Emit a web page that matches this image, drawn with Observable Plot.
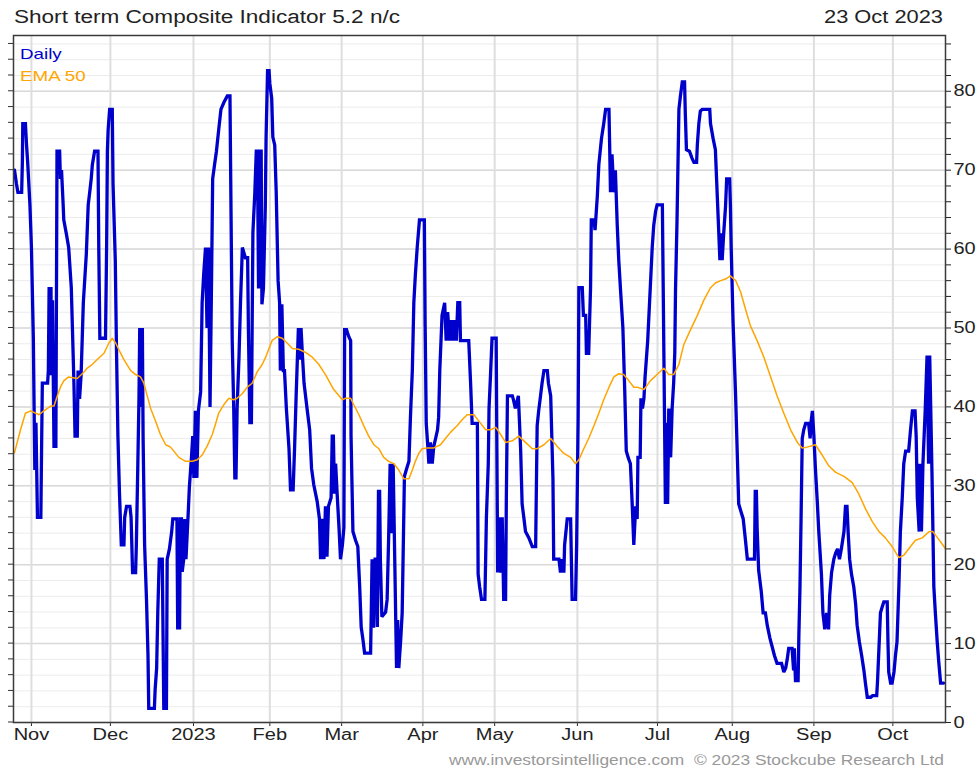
<!DOCTYPE html>
<html>
<head>
<meta charset="utf-8">
<script src="https://cdn.jsdelivr.net/npm/d3@7"></script>
<script src="https://cdn.jsdelivr.net/npm/@observablehq/plot@0.6"></script>
<style>
  html, body { margin: 0; padding: 0; background: #fff; }
  svg { display: block; }
</style>
</head>
<body>
<div id="chart"></div>
<script>
// ---- Data ----
// Position on the trading-day axis (0 = first session shown) and Daily indicator value
const dailyDay = [
  0,0.5,0.9,1.9,2.1,2.2,2.9,3.2,3.5,4.1,
  4.5,5.0,5.4,5.7,6.1,7.0,7.2,7.4,8.8,9.0,
  9.2,9.7,9.8,10.1,10.5,11.0,11.3,12.0,12.2,12.5,
  12.9,13.1,13.8,14.4,15.1,15.4,15.8,16.1,16.7,16.9,
  17.3,17.7,18.0,18.3,19.1,19.6,20.0,20.4,20.7,21.3,
  22.2,22.4,22.7,24.2,24.5,24.7,24.9,25.3,26.0,26.2,
  26.8,27.1,27.5,27.9,28.4,29.1,29.3,29.8,30.7,31.0,
  31.4,32.2,32.4,32.8,33.1,33.3,33.6,34.0,34.2,34.6,
  35.1,35.5,35.7,37.2,37.4,37.8,38.1,38.5,39.3,39.5,
  39.7,40.4,40.6,41.2,41.8,42.1,43.2,43.4,43.9,44.1,
  44.4,44.6,45.0,45.3,45.6,46.2,46.5,47.1,47.4,47.7,
  48.1,48.5,48.9,49.5,49.9,50.3,50.8,51.2,51.6,52.0,
  52.4,52.7,53.2,53.7,54.3,54.9,55.7,56.6,57.3,57.6,
  57.9,58.3,58.6,58.9,59.2,59.7,60.1,60.6,61.4,62.0,
  62.2,62.6,63.0,63.2,63.4,63.9,64.3,64.6,64.9,65.3,
  65.6,65.8,66.2,66.7,66.9,67.3,67.7,67.9,68.4,68.7,
  69.2,69.6,70.1,70.5,70.7,71.1,71.5,71.8,72.3,73.0,
  73.4,74.1,74.5,74.9,75.5,75.8,76.2,76.6,77.0,77.8,
  78.5,79.0,79.6,80.5,81.1,81.4,81.9,82.3,82.7,83.1,
  83.5,84.2,84.5,84.8,85.1,85.4,85.8,86.3,86.7,87.2,
  87.6,87.8,88.3,88.9,89.4,89.5,90.0,90.7,91.3,91.8,
  92.2,92.7,93.1,94.7,94.9,95.1,95.5,95.9,96.3,96.5,
  96.8,97.1,97.3,97.7,98.7,99.1,99.5,99.9,100.3,100.7,
  101.0,101.3,101.6,101.9,102.2,102.7,103.1,103.4,103.7,104.3,
  104.9,105.3,105.8,106.2,106.6,107.1,107.7,109.0,109.2,109.5,
  110.0,110.2,110.6,111.1,111.5,112.0,112.5,112.8,113.1,113.7,
  114.4,114.8,115.2,115.7,116.1,116.6,117.0,117.5,117.9,118.4,
  118.6,120.8,121.3,121.7,123.1,123.3,123.7,124.2,125.1,125.3,
  125.5,126.0,126.2,126.6,127.0,128.1,128.3,128.5,128.8,129.3,
  129.7,130.1,130.6,130.8,131.1,132.4,132.7,133.2,134.0,134.6,
  135.0,135.5,135.9,136.8,137.7,138.6,138.8,139.0,139.4,139.9,
  140.3,140.8,141.7,142.0,142.6,143.2,143.4,144.8,145.2,145.6,
  146.1,146.3,147.0,147.9,148.1,148.3,149.2,149.5,149.9,150.1,
  151.0,151.3,151.9,152.1,152.7,153.2,153.4,154.1,154.4,155.0,
  155.4,156.1,156.7,157.2,158.1,158.3,158.5,158.9,159.4,159.8,
  160.3,160.7,161.2,161.8,162.3,162.7,163.2,163.8,164.3,164.7,
  165.2,165.6,165.8,166.4,166.6,167.0,167.4,167.7,168.4,169.0,
  169.6,170.0,170.5,170.9,172.3,172.7,173.1,173.4,173.7,174.0,
  174.5,174.9,175.3,175.6,175.8,176.2,176.7,177.1,177.6,178.2,
  178.4,178.7,179.5,180.2,180.7,181.4,181.6,182.0,182.4,182.9,
  184.9,185.1,185.8,186.4,187.0,187.6,187.9,188.2,188.6,189.1,
  189.4,190.2,190.4,190.6,191.1,191.8,192.2,192.6,193.1,193.8,
  194.4,194.9,196.8,197.0,197.3,197.5,197.9,198.6,199.1,199.7,
  200.2,200.9,201.5,202.1,202.8,204.0,204.6,205.1,205.5,205.9,
  206.8,207.2,207.4,207.7,208.4,208.6,208.9,209.2,209.5,209.9,
  210.4,211.2,211.6,211.8,212.2,212.6,213.0,213.5,213.9,214.6,
  215.0,215.5,216.0,216.5,216.8,217.3,217.9,218.4,218.9,219.4,
  219.9,220.6,221.0,221.4,221.7,222.1,222.6,223.2,223.7,224.1,
  224.7,225.3,225.9,226.3,226.8,227.7,228.2,229.3,229.5,229.9,
  230.3,230.8,231.2,232.1,232.3,232.5,233.0,233.4,233.9,234.3,
  234.7,235.2,235.6,236.1,236.5,237.0,237.8,238.3,238.8,239.5,
  239.8,240.1,240.6,240.8,241.2,241.6,242.2,242.7,243.1,243.4,
  244.0,244.5,244.9,245.4,245.8,246.3,247.1
];
const dailyValue = [
  70,68.3,67.2,67.2,71.3,75.9,75.9,73.2,71,65.6,
  60.2,48.9,32,38,26,26,34.7,43,43,44.6,
  55,55,44,53.5,35,35,72.4,72.4,68.9,70,
  66,63.7,61.9,60.2,55.1,50,43,36.3,36.3,44.6,
  41,44,48.5,53.2,59.4,65.6,67.2,68.9,70.7,72.4,
  72.4,60.5,48.7,48.7,60.5,72.4,75.1,77.7,77.7,68.3,
  58.6,47.9,36.3,29.3,22.5,22.5,26,27.4,27.4,26,
  19,19,22.5,32.8,41.1,50,40,50,36,22.5,
  15.6,8.5,1.8,1.8,4.2,6.9,13.9,20.7,20.7,11.2,
  1.8,1.8,20.7,22,24.2,25.8,25.8,12,12,25.8,
  25.8,19.1,20.7,25.8,20.7,26.6,29.8,33.9,36.3,31,
  39.5,31,39.5,41.9,53.2,56.7,60.2,50,60.2,40,
  56,68.9,70.7,72.4,75.1,77.7,78.6,79.4,79.4,63.7,
  48.4,39.8,31,31,39.8,46.3,53.2,60.2,58.9,58.9,
  50,38,38,50,62.1,67,72.4,72.4,55,72.4,
  72.4,53,55,65.4,74,82.6,82.6,81,79.1,74.2,
  73.2,67.2,56,53.2,44.6,53,44.6,44.6,39.8,34.7,
  29.5,29.5,35,41.4,50,46,50,46.3,43,39.8,
  37.1,32.2,30.1,28,25.8,20.7,25.8,20.7,27.4,21,
  27.4,28.5,36.3,36.3,29,32.8,29,24.7,20.7,22.5,
  24.7,49.8,49.8,48.9,48.4,36.3,24.2,23.1,22.3,17.2,
  12.1,10.4,8.8,8.8,14.5,20.7,12,20.7,20.7,12.1,
  29.3,29.3,20.7,13.4,14,15.6,23.4,32.8,24,32.8,
  24.2,15.6,6.9,13,6.9,10.4,13.9,22.5,31.2,32.2,
  33.1,38.7,44.6,53.2,56.7,60.2,63.7,63.7,50.8,37.9,
  34.4,32.8,35.5,32.8,35,36,37.1,38.7,44.6,51.6,
  53.2,48.4,52,48.4,51,48.4,51,48.4,53.2,53.2,
  48.4,48.4,43,37.9,37.9,18.8,17.2,15.6,15.6,20.7,
  26,32.8,39.8,44.1,48.7,48.7,33.9,19,26,19,
  26,15.6,15.6,28.2,41.4,41.4,40.9,39.8,41.4,34.7,
  27.7,25.8,24.2,23.4,22.3,22.3,30.1,37.6,39.5,41.4,
  43,44.6,44.6,43,41.4,30.9,20.7,20.7,19,20.7,
  19,22.5,25.8,25.8,20.7,15.6,15.6,22.5,38.7,55.1,
  55.1,51.6,51.6,46.8,46.8,55.1,63.7,63.7,62.4,66.7,
  70.7,74,75.9,77.7,77.7,72.6,67.2,72,67.2,70,
  63,58.6,54.6,50,41.9,34.4,33.6,32.8,27.4,22.5,
  27.4,25.8,33.6,33.6,41.1,39.8,41.1,43.8,48.4,54.3,
  60.2,63,64.8,65.6,65.6,46.8,27.7,38,27.7,39.8,
  33.6,39.8,43,46.8,54.9,63.7,77.7,79.4,81.2,81.2,
  77.2,72.6,72.4,71.5,71,71,73.2,75.9,77.5,77.7,
  77.7,75.9,74,72.6,65.6,58.6,62,58.6,61.9,65.4,
  68.9,68.9,65.4,60.2,50.8,41.1,34.4,27.7,26.9,25.8,
  23.1,20.7,20.7,29.3,29.3,24.7,19.3,16.6,13.9,13.9,
  12.3,10.7,9.6,8.5,7.5,7.5,6.4,6.9,8,9.4,
  9.4,6.6,9.4,5.3,5.3,11,17.2,26.3,36,37.1,
  37.9,37.9,36,37.9,39.5,36.3,32.2,28,24.2,18.8,
  13.9,11.8,13.9,11.8,16.1,19,20.7,21.5,22,20.7,
  22,24.2,27.4,27.4,24.2,20.7,18.8,17.2,15,12.3,
  10.2,8.5,6.6,5,3.2,3.2,3.4,3.4,5,9.4,
  13.9,14.7,15.3,15.3,10.2,6.4,5,5,6.4,8.5,
  10.2,17.2,24.2,28.5,32.8,34.4,34.4,37.1,39.5,39.5,
  36.3,28.5,24.2,32.8,24.2,32.8,39.5,46.5,32.8,46.5,
  31.7,17.2,13.9,10.2,7.7,5,5
];

// EMA 50 as drawn in the reference
const emaDay = [
  0,1.6,2.9,4.3,6.5,7.8,9.6,10.5,11.4,12.2,13.1,14.4,16.7,18.4,19.3,20.7,22.0,23.8,25.1,26.0,
  26.9,27.7,29.1,30.9,32.2,33.5,34.4,35.3,36.2,37.5,38.8,40.2,41.5,43.7,45.5,47.3,48.6,49.9,51.2,52.6,
  53.5,54.3,55.7,57.0,58.3,59.2,60.6,61.9,63.2,64.5,65.9,66.8,67.6,68.5,69.9,71.2,72.5,73.9,75.6,77.4,
  79.2,80.9,82.7,84.9,86.3,87.2,88.0,89.4,90.2,91.6,92.9,94.2,95.6,96.9,98.2,99.5,100.9,102.2,103.5,104.9,
  105.8,106.6,107.5,108.4,109.8,111.5,113.3,114.6,116.0,117.7,119.1,120.4,122.2,123.5,125.3,126.6,128.0,129.3,130.6,132.4,
  134.1,135.9,137.7,139.0,140.8,142.6,144.3,146.1,147.9,149.2,150.1,151.4,152.7,154.1,155.4,156.7,158.1,159.4,160.7,162.0,
  163.4,164.7,165.6,167.4,169.1,170.9,172.7,174.0,175.3,176.7,178.0,179.8,181.6,183.3,185.1,186.4,187.8,189.1,190.4,191.8,
  193.1,194.4,195.7,197.5,199.3,201.1,202.8,204.6,206.4,208.2,209.5,210.8,213.0,214.8,216.6,218.4,220.6,222.8,224.5,226.3,
  228.1,229.9,231.6,233.4,235.2,236.5,238.3,239.6,241.4,243.3,244.2,245.5,246.9,247.6
];
const emaValue = [
  34.2,37.1,39.2,39.5,39,39.5,40.1,40.1,41.4,42.5,43.3,43.8,43.6,44.4,44.9,45.4,46,46.8,48.1,48.7,
  48.1,47.3,46,44.6,44.1,43.8,43,41.4,39.8,38.2,36.5,35.2,34.9,33.6,33.1,33.1,33.3,33.9,35,36.5,
  37.9,39.2,40.3,41.1,40.9,41.1,41.7,42.5,43,44.4,45.4,46.3,47.3,48.4,48.9,48.7,48.1,47.4,47.3,46.9,
  46.3,45.4,44.1,42.2,41.4,40.9,41.1,41.1,40.3,39,37.6,36.3,35.2,34.7,33.6,33.1,32.8,32,30.9,30.9,
  32,33.1,34.1,34.7,34.8,34.8,35.2,36,36.8,37.6,38.4,39,39,38.2,37.1,37.1,37.4,36.5,35.5,35.7,
  36.3,35.5,34.7,34.7,35.2,36,35,34.1,33.6,32.8,33.3,34.7,36,37.6,39.2,40.9,42.5,43.8,44.2,44.1,
  43.3,42.5,42.5,42.2,43.3,44.1,44.9,44.1,44.1,45.4,47.9,49.8,51.6,53.5,55.1,55.7,56,56.2,56.6,56,
  54.6,52.4,50.3,48.4,46.3,43.8,41.4,39.2,37.1,35.5,34.8,34.9,35.2,33.9,32.5,31.7,31.2,30.4,29,27.1,
  25.5,24.2,23.4,22.3,20.9,21.2,22.3,23.1,23.4,24.2,24.2,23.4,22.5,22
];

// Month ticks (positions on the trading-day axis) and their labels
const monthDay   = [4.5, 25.5, 47.6, 67.9, 87.0, 108.6, 127.7, 149.7, 171.0, 190.9, 212.6, 233.6];
const monthLabel = ["Nov", "Dec", "2023", "Feb", "Mar", "Apr", "May", "Jun", "Jul", "Aug", "Sep", "Oct"];

// Y ticks
const yMinorTicks = d3.range(0, 88, 2);
const yMajorTicks = [0, 10, 20, 30, 40, 50, 60, 70, 80];

const titleText  = "Short term Composite Indicator 5.2 n/c";
const dateText   = "23 Oct 2023";
const footerText = "www.investorsintelligence.com  \u00A9 2023 Stockcube Research Ltd";
const legendItems = [
  {label: "Daily",  color: "#0000cc"},
  {label: "EMA 50", color: "#ffa500"}
];

// ---- Build ----
const daily = dailyDay.map((d, i) => ({d, v: dailyValue[i]}));
const ema   = emaDay.map((d, i) => ({d, v: emaValue[i]}));
const monthMap = new Map(monthDay.map((d, i) => [d, monthLabel[i]]));

const FONT = "'Liberation Sans', Arial, Helvetica, sans-serif";

const plot = Plot.plot({
  width: 979,
  height: 770,
  marginTop: 35,
  marginBottom: 48,
  marginLeft: 13,
  marginRight: 34,
  style: {fontFamily: FONT, fontSize: "16px", color: "#222", background: "#fff", overflow: "visible"},
  x: {type: "linear", domain: [-0.27, 247.6], ticks: monthDay, tickFormat: d => monthMap.get(d) ?? "",
      tickSize: 4, tickPadding: 2, label: null},
  y: {domain: [0, 87.07], axis: "right", ticks: yMinorTicks,
      tickFormat: d => (d % 10 === 0 ? String(d) : ""), tickSize: 5, tickPadding: 3, label: null},
  marks: [
    Plot.ruleY(yMinorTicks, {stroke: "#ececec", strokeWidth: 1}),
    Plot.ruleY(yMajorTicks, {stroke: "#d9d9d9", strokeWidth: 1.5}),
    Plot.ruleX(monthDay, {stroke: "#dedede", strokeWidth: 2}),
    Plot.line(daily, {x: "d", y: "v", stroke: "#0000cc", strokeWidth: 3.3, strokeLinejoin: "miter", strokeMiterlimit: 2}),
    Plot.line(ema, {x: "d", y: "v", stroke: "#ffa500", strokeWidth: 1.5}),
    Plot.frame({stroke: "#3a3a3a", strokeWidth: 1.5})
  ]
});

document.getElementById("chart").appendChild(plot);

const svg = d3.select(plot);
const ys = plot.scale("y");

// left-side tick marks (no labels), placed through the y scale
const leftTicks = svg.append("g").attr("stroke", "#333").attr("stroke-width", 1);
yMinorTicks.forEach(t => {
  const y = ys.apply(t);
  leftTicks.append("line").attr("x1", 8).attr("x2", 13).attr("y1", y).attr("y2", y);
});

// legend
const legend = svg.append("g").attr("font-family", FONT).attr("font-size", 15).attr("text-anchor", "start");
legendItems.forEach((it, i) => {
  legend.append("text").attr("x", 20).attr("y", 59 + i * 22).attr("fill", it.color)
    .attr("text-anchor", "start").text(it.label);
});

// widen glyphs like the reference's horizontally stretched text
svg.selectAll("text").each(function() {
  const len = this.getComputedTextLength();
  if (len > 0) {
    this.setAttribute("textLength", (len * 1.25).toFixed(1));
    this.setAttribute("lengthAdjust", "spacingAndGlyphs");
  }
});

// title, date, footer
const texts = svg.append("g").attr("font-family", FONT);
texts.append("text").attr("x", 14).attr("y", 23).attr("font-size", 18).attr("fill", "#222")
  .attr("text-anchor", "start")
  .attr("textLength", 386).attr("lengthAdjust", "spacingAndGlyphs").text(titleText);
texts.append("text").attr("x", 943).attr("y", 23).attr("font-size", 18).attr("fill", "#222")
  .attr("text-anchor", "end").attr("textLength", 119).attr("lengthAdjust", "spacingAndGlyphs").text(dateText);
texts.append("text").attr("x", 944).attr("y", 765).attr("font-size", 14).attr("fill", "#999")
  .attr("text-anchor", "end").attr("textLength", 495).attr("lengthAdjust", "spacingAndGlyphs")
  .attr("xml:space", "preserve").style("white-space", "pre").text(footerText);
</script>
</body>
</html>
